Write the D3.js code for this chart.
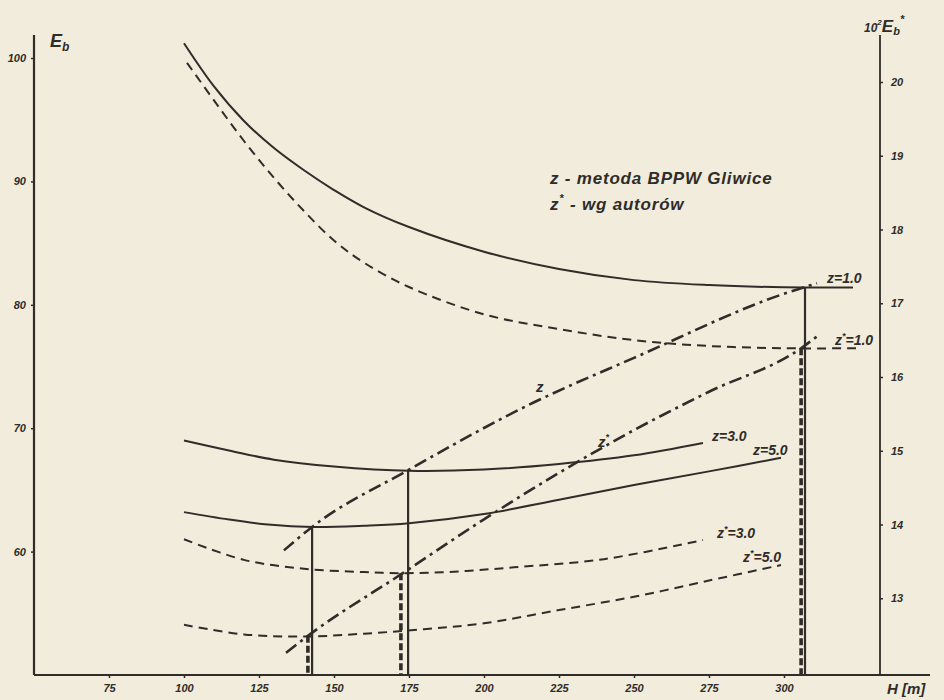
<!DOCTYPE html>
<html>
<head>
<meta charset="utf-8">
<script src="https://cdn.jsdelivr.net/npm/d3@7"></script>
<style>
  body { margin: 0; background: #f1ecdc; }
  svg { display: block; }
  text { font-family: "Liberation Sans", sans-serif; font-style: italic; font-weight: bold; fill: #2f2c29; }
</style>
</head>
<body>
<svg id="canves"></svg>
<script>
// E_b curves (left axis), z = 1.0 / 3.0 / 5.0
let H_z1 = [100, 110, 120, 130, 140, 150, 160, 175, 200, 225, 250, 275, 300, 323];
let E_z1 = [101.2, 97.7, 94.9, 92.7, 90.9, 89.3, 87.9, 86.3, 84.3, 82.9, 82.0, 81.6, 81.42, 81.4];
let H_z3 = [100, 115, 130, 150, 175, 200, 225, 250, 273];
let E_z3 = [69.0, 68.2, 67.45, 66.9, 66.55, 66.65, 67.1, 67.8, 68.8];
let H_z5 = [100, 115, 128, 143, 160, 175, 200, 225, 250, 275, 299];
let E_z5 = [63.2, 62.6, 62.2, 62.0, 62.1, 62.3, 63.05, 64.2, 65.4, 66.5, 67.6];

// 10^2 E_b* curves (right axis), z* = 1.0 / 3.0 / 5.0
let H_zs1 = [101, 110, 120, 130, 140, 150, 160, 175, 200, 225, 250, 275, 300, 324];
let E_zs1 = [20.26, 19.75, 19.2, 18.7, 18.25, 17.85, 17.55, 17.22, 16.85, 16.65, 16.5, 16.42, 16.39, 16.39];
let H_zs3 = [100, 120, 140, 160, 172, 190, 210, 240, 273];
let E_zs3 = [13.8, 13.52, 13.40, 13.355, 13.34, 13.36, 13.42, 13.53, 13.79];
let H_zs5 = [100, 120, 140, 160, 180, 200, 225, 250, 275, 299];
let E_zs5 = [12.64, 12.51, 12.48, 12.52, 12.58, 12.66, 12.84, 13.02, 13.24, 13.45];

// lines of optima (dash-dot)
let H_zline = [133.3, 142.7, 174.7, 216.7, 250, 301.3, 307, 311];
let E_zline = [60.1, 62.0, 66.6, 72.1, 75.7, 81.0, 81.44, 81.75];
let H_zsline = [134, 141.3, 173.3, 200, 225, 250, 275, 305.7, 311];
let E_zsline = [12.26, 12.49, 13.35, 14.07, 14.7, 15.28, 15.8, 16.39, 16.55];

// optimum points
let optH_z = [142.7, 174.7, 307];
let optE_z = [62.0, 66.55, 81.44];
let optH_zs = [141.3, 172.3, 305.7];
let optE_zs = [12.49, 13.34, 16.39];

let ticksH = [75, 100, 125, 150, 175, 200, 225, 250, 275, 300];
let ticksL = [60, 70, 80, 90, 100];
let ticksR = [13, 14, 15, 16, 17, 18, 19, 20];

let w = 944;
let h = 700;
let ink = "#2f2c29";

let canves = d3.select("#canves").attr("width", w).attr("height", h);

let x = d3.scaleLinear().domain([50, 332]).range([34, 880]);
let yL = d3.scaleLinear().domain([50, 100]).range([675, 58]);
let yR = d3.scaleLinear().domain([12, 20]).range([672, 82]);

let zip = (hs, es) => hs.map((v, i) => [v, es[i]]);

let lineL = d3.line().x(d => x(d[0])).y(d => yL(d[1])).curve(d3.curveCatmullRom.alpha(0.5));
let lineR = d3.line().x(d => x(d[0])).y(d => yR(d[1])).curve(d3.curveCatmullRom.alpha(0.5));
let optL = d3.line().x(d => x(d[0])).y(d => yL(d[1])).curve(d3.curveMonotoneX);
let optR = d3.line().x(d => x(d[0])).y(d => yR(d[1])).curve(d3.curveMonotoneX);

// axes frame
let axisG = canves.append("g");
axisG.append("line").attr("x1", x(50)).attr("x2", 930).attr("y1", yL(50)).attr("y2", yL(50))
  .attr("stroke", ink).attr("stroke-width", 2.2);
axisG.append("line").attr("x1", x(50)).attr("x2", x(50)).attr("y1", 35).attr("y2", yL(50))
  .attr("stroke", ink).attr("stroke-width", 2.2);
axisG.append("line").attr("x1", x(332)).attr("x2", x(332)).attr("y1", 35).attr("y2", yL(50))
  .attr("stroke", ink).attr("stroke-width", 1.8);

let bottom = canves.append("g")
  .attr("transform", "translate(0," + yL(50) + ")")
  .call(d3.axisBottom(x).tickValues(ticksH).tickSizeInner(3).tickSizeOuter(0).tickPadding(6));
let left = canves.append("g")
  .attr("transform", "translate(" + x(50) + ",0)")
  .call(d3.axisLeft(yL).tickValues(ticksL).tickSizeInner(3).tickSizeOuter(0).tickPadding(5));
let right = canves.append("g")
  .attr("transform", "translate(" + x(332) + ",0)")
  .call(d3.axisRight(yR).tickValues(ticksR).tickSizeInner(3).tickSizeOuter(0).tickPadding(8));

[bottom, left, right].forEach(g => {
  g.select(".domain").remove();
  g.selectAll(".tick line").attr("stroke", ink).attr("stroke-width", 1.5);
  g.selectAll(".tick text").attr("font-size", "11px").attr("fill", ink)
    .style("font-family", "Liberation Sans").style("font-style", "italic").style("font-weight", "bold");
});

// axis titles
let tl = canves.append("text").attr("x", 50).attr("y", 47).attr("font-size", "18px");
tl.append("tspan").text("E");
tl.append("tspan").attr("font-size", "12px").attr("dy", 4).text("b");

let tr = canves.append("text").attr("x", 864).attr("y", 32).attr("font-size", "17px");
tr.append("tspan").attr("font-size", "12px").text("10");
tr.append("tspan").attr("font-size", "8px").attr("dy", -7).text("2");
tr.append("tspan").attr("dy", 7).text("E");
tr.append("tspan").attr("font-size", "11px").attr("dy", 3).text("b");
tr.append("tspan").attr("font-size", "11px").attr("dy", -12).text("*");

canves.append("text").attr("x", 887).attr("y", 694).attr("font-size", "15px").text("H [m]");

// curves
let solid = [zip(H_z1, E_z1), zip(H_z3, E_z3), zip(H_z5, E_z5)];
let dashed = [zip(H_zs1, E_zs1), zip(H_zs3, E_zs3), zip(H_zs5, E_zs5)];

canves.selectAll(".solid")
  .data(solid)
  .enter()
  .append("path")
  .attr("class", "solid")
  .attr("d", lineL)
  .attr("fill", "none")
  .attr("stroke", ink)
  .attr("stroke-width", 2);

canves.selectAll(".dashed")
  .data(dashed)
  .enter()
  .append("path")
  .attr("class", "dashed")
  .attr("d", lineR)
  .attr("fill", "none")
  .attr("stroke", ink)
  .attr("stroke-width", 2)
  .attr("stroke-dasharray", "9,6");

// optimum lines
canves.append("path")
  .datum(zip(H_zline, E_zline))
  .attr("d", optL)
  .attr("fill", "none")
  .attr("stroke", ink)
  .attr("stroke-width", 2.6)
  .attr("stroke-dasharray", "13,5,3,5");

canves.append("path")
  .datum(zip(H_zsline, E_zsline))
  .attr("d", optR)
  .attr("fill", "none")
  .attr("stroke", ink)
  .attr("stroke-width", 2.6)
  .attr("stroke-dasharray", "13,5,3,5");

// drop lines to H axis
canves.selectAll(".drop")
  .data(zip(optH_z, optE_z))
  .enter()
  .append("line")
  .attr("class", "drop")
  .attr("x1", d => x(d[0])).attr("x2", d => x(d[0]))
  .attr("y1", d => yL(d[1])).attr("y2", yL(50))
  .attr("stroke", ink)
  .attr("stroke-width", 2.2);

canves.selectAll(".drops")
  .data(zip(optH_zs, optE_zs))
  .enter()
  .append("line")
  .attr("class", "drops")
  .attr("x1", d => x(d[0])).attr("x2", d => x(d[0]))
  .attr("y1", d => yR(d[1])).attr("y2", yL(50))
  .attr("stroke", ink)
  .attr("stroke-width", 3.6)
  .attr("stroke-dasharray", "7,3");

// curve labels, anchored at curve ends
let labels = [
  { txt: "z=1.0", star: false, p: [H_z1[H_z1.length - 1], E_z1[E_z1.length - 1]], s: yL, dx: -26, dy: -5 },
  { txt: "z=3.0", star: false, p: [H_z3[H_z3.length - 1], E_z3[E_z3.length - 1]], s: yL, dx: 9, dy: -2 },
  { txt: "z=5.0", star: false, p: [H_z5[H_z5.length - 1], E_z5[E_z5.length - 1]], s: yL, dx: -28, dy: -3 },
  { txt: "1.0", star: true, p: [H_zs1[H_zs1.length - 1], E_zs1[E_zs1.length - 1]], s: yR, dx: -21, dy: -3 },
  { txt: "3.0", star: true, p: [H_zs3[H_zs3.length - 1], E_zs3[E_zs3.length - 1]], s: yR, dx: 14, dy: -2 },
  { txt: "5.0", star: true, p: [H_zs5[H_zs5.length - 1], E_zs5[E_zs5.length - 1]], s: yR, dx: -38, dy: -3 }
];

labels.forEach(l => {
  let t = canves.append("text")
    .attr("x", x(l.p[0]) + l.dx)
    .attr("y", l.s(l.p[1]) + l.dy)
    .attr("font-size", "14px");
  if (l.star) {
    t.append("tspan").text("z");
    t.append("tspan").attr("font-size", "9px").attr("dy", -6).text("*");
    t.append("tspan").attr("dy", 6).text("=" + l.txt);
  } else {
    t.text(l.txt);
  }
});

canves.append("text")
  .attr("x", x(H_zline[3]) + 2)
  .attr("y", yL(E_zline[3]) - 10)
  .attr("font-size", "15px")
  .text("z");

let zsl = canves.append("text")
  .attr("x", x(238))
  .attr("y", yR(14.99) - 4)
  .attr("font-size", "15px");
zsl.append("tspan").text("z");
zsl.append("tspan").attr("font-size", "9px").attr("dy", -7).text("*");

// legend
let lg = canves.append("g").attr("transform", "translate(550,0)");
lg.append("text").attr("x", 0).attr("y", 184).attr("font-size", "17px")
  .attr("letter-spacing", "0.8px").text("z - metoda BPPW Gliwice");
let lg2 = lg.append("text").attr("x", 0).attr("y", 210).attr("font-size", "17px").attr("letter-spacing", "0.8px");
lg2.append("tspan").text("z");
lg2.append("tspan").attr("font-size", "11px").attr("dy", -8).text("*");
lg2.append("tspan").attr("dy", 8).text(" - wg autorów");
</script>
</body>
</html>
